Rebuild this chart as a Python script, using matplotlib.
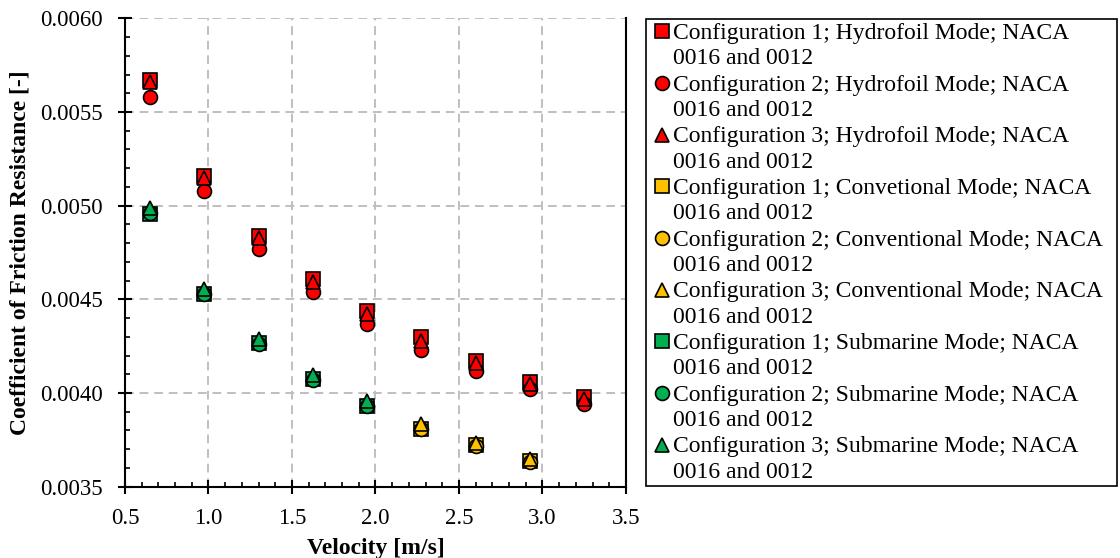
import numpy as np
import matplotlib
matplotlib.use("Agg")
import matplotlib.pyplot as plt
from matplotlib.lines import Line2D
from matplotlib.legend_handler import HandlerLine2D
from matplotlib.ticker import MultipleLocator, FormatStrFormatter

plt.rcParams['font.family'] = ['Liberation Serif', 'DejaVu Serif']

# velocities [m/s]
v_hydro = [0.65, 0.975, 1.3, 1.625, 1.95, 2.275, 2.6, 2.925, 3.25]
v_conv = [2.275, 2.6, 2.925]
v_sub = [0.65, 0.975, 1.3, 1.625, 1.95]

# friction resistance coefficients
hydro_c1 = [0.00567, 0.00516, 0.00484, 0.00461, 0.00444, 0.00430, 0.00417, 0.00406, 0.00398]
hydro_c2 = [0.00558, 0.00508, 0.00477, 0.00454, 0.00437, 0.00423, 0.00412, 0.00402, 0.00394]
hydro_c3 = [0.00566, 0.00515, 0.00483, 0.00459, 0.00442, 0.00428, 0.00416, 0.00405, 0.00397]

conv_c1 = [0.00381, 0.00372, 0.003636]
conv_c2 = [0.00381, 0.003715, 0.00363]
conv_c3 = [0.003836, 0.003733, 0.00365]

sub_c1 = [0.004955, 0.00453, 0.004266, 0.004076, 0.003933]
sub_c2 = [0.00496, 0.004528, 0.00426, 0.00407, 0.00393]
sub_c3 = [0.004987, 0.004554, 0.004287, 0.004097, 0.003955]

labels = [
    "Configuration 1; Hydrofoil Mode; NACA\n0016 and 0012",
    "Configuration 2; Hydrofoil Mode; NACA\n0016 and 0012",
    "Configuration 3; Hydrofoil Mode; NACA\n0016 and 0012",
    "Configuration 1; Convetional Mode; NACA\n0016 and 0012",
    "Configuration 2; Conventional Mode; NACA\n0016 and 0012",
    "Configuration 3; Conventional Mode; NACA\n0016 and 0012",
    "Configuration 1; Submarine Mode; NACA\n0016 and 0012",
    "Configuration 2; Submarine Mode; NACA\n0016 and 0012",
    "Configuration 3; Submarine Mode; NACA\n0016 and 0012",
]

red = '#FF0000'
yellow = '#FFC000'
green = '#00B050'

series = [
    (v_hydro, hydro_c1, 's', red),
    (v_hydro, hydro_c2, 'o', red),
    (v_hydro, hydro_c3, '^', red),
    (v_conv, conv_c1, 's', yellow),
    (v_conv, conv_c2, 'o', yellow),
    (v_conv, conv_c3, '^', yellow),
    (v_sub, sub_c1, 's', green),
    (v_sub, sub_c2, 'o', green),
    (v_sub, sub_c3, '^', green),
]


class UpHandler(HandlerLine2D):
    # put the marker next to the first line of a two-line label
    def create_artists(self, legend, orig_handle, xdescent, ydescent,
                       width, height, fontsize, trans):
        arts = super().create_artists(legend, orig_handle, xdescent, ydescent,
                                      width, height, fontsize, trans)
        for a in arts:
            a.set_ydata(np.asarray(a.get_ydata()) + 0.62 * fontsize)
        return arts


fig = plt.figure(figsize=(11.2, 5.58), dpi=100)
ax = fig.add_axes([0.1116, 0.1278, 0.4473, 0.8394])

handles = []
for (x, y, m, c), lab in zip(series, labels):
    h, = ax.plot(x, y, linestyle='none', marker=m, markersize=10,
                 markerfacecolor=c, markeredgecolor='black',
                 markeredgewidth=1.2, label=lab, zorder=3, clip_on=False)
    handles.append(h)

ax.set_xlim(0.5, 3.5)
ax.set_ylim(0.0035, 0.0060)
ax.xaxis.set_major_locator(MultipleLocator(0.5))
ax.xaxis.set_minor_locator(MultipleLocator(0.1))
ax.yaxis.set_major_locator(MultipleLocator(0.0005))
ax.yaxis.set_minor_locator(MultipleLocator(0.0001))
ax.xaxis.set_major_formatter(FormatStrFormatter('%.1f'))
ax.yaxis.set_major_formatter(FormatStrFormatter('%.4f'))

ax.grid(True, which='major', color='#BFBFBF', linestyle=(0, (4.5, 3)), linewidth=1.4)
ax.set_axisbelow(True)

ax.tick_params(which='major', direction='inout', length=10, width=1.5,
               labelsize=16.5, color='black')
ax.tick_params(axis='x', which='major', pad=10.5)
ax.tick_params(axis='y', which='major', pad=11)
ax.tick_params(which='minor', direction='in', length=3.6, width=1.2, color='black')
ax.spines['top'].set_visible(False)
for s in ax.spines.values():
    s.set_linewidth(1.5)
    s.set_color('black')

ax.set_xlabel('Velocity [m/s]', fontsize=17, fontweight='bold', labelpad=6)
ax.set_ylabel('Coefficient of Friction Resistance [-]', fontsize=17,
              fontweight='bold', labelpad=7)

leg = fig.legend(handles=handles, loc='upper left',
                 bbox_to_anchor=(0.5768, 0.9654, 0.4205, 0.0), mode='expand',
                 fontsize=17, frameon=True, fancybox=False, framealpha=1,
                 edgecolor='black', handlelength=1.06, handletextpad=-0.06,
                 labelspacing=0.22, borderpad=0.15, borderaxespad=0,
                 handler_map={Line2D: UpHandler()})
leg.get_frame().set_linewidth(1.2)
for t in leg.get_texts():
    t.set_linespacing(1.28)

fig.savefig('out.png', dpi=100)
